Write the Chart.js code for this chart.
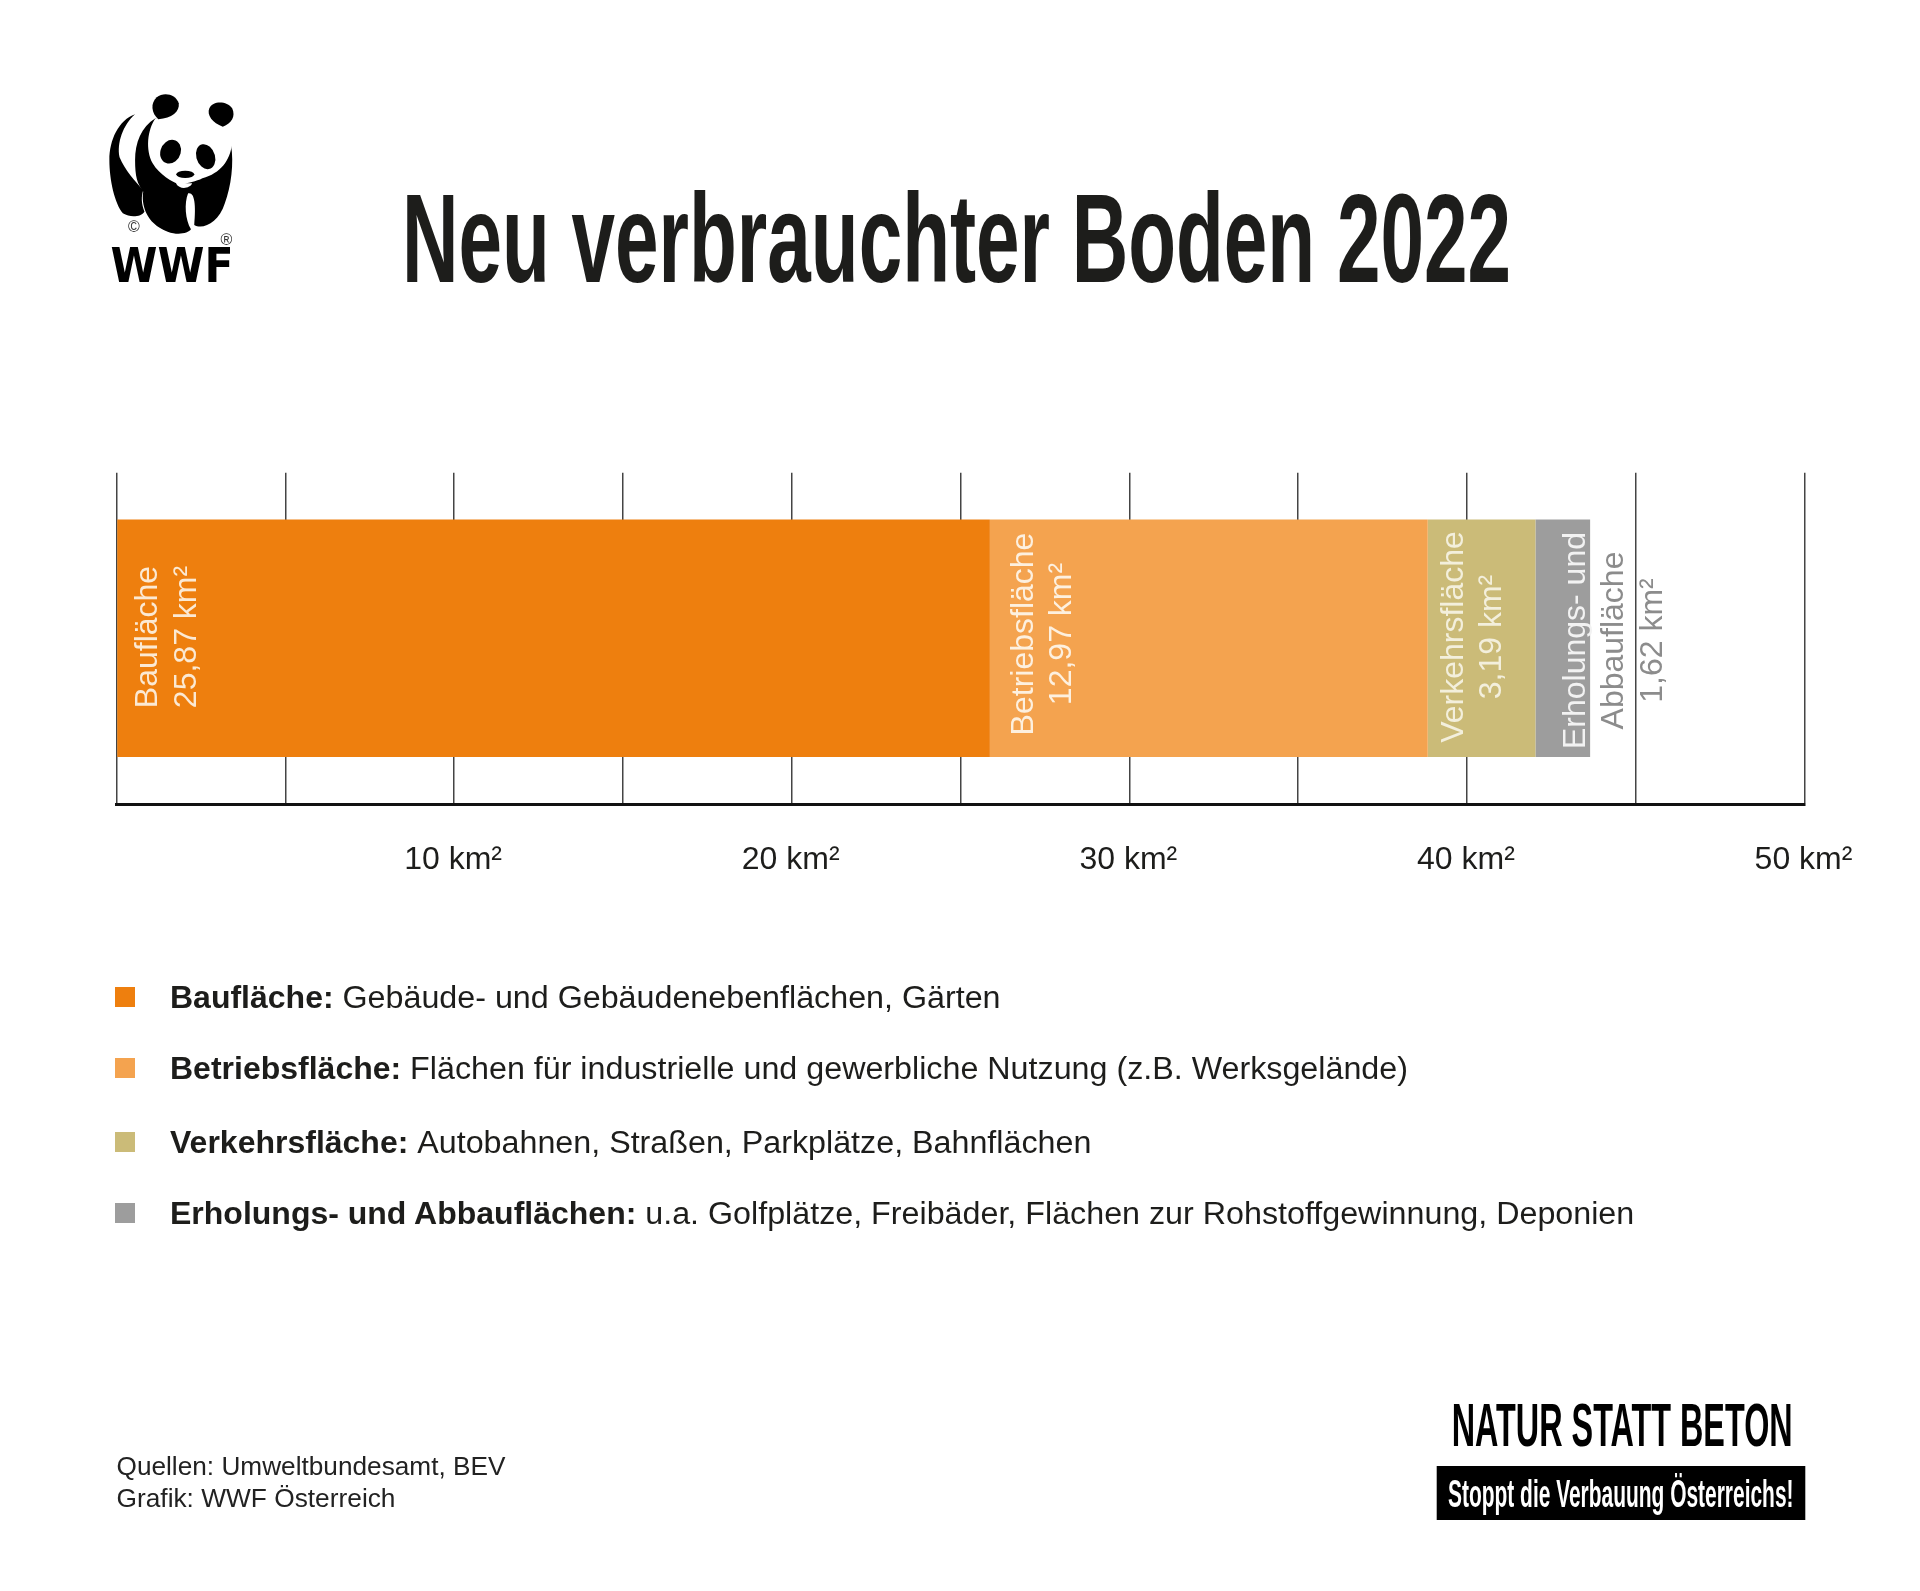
<!DOCTYPE html>
<html lang="de">
<head>
<meta charset="utf-8">
<title>Neu verbrauchter Boden 2022</title>
<script src="https://cdn.jsdelivr.net/npm/chart.js@4"></script>
<style>
html, body { margin: 0; padding: 0; background: #fff; }
#wrap { position: relative; width: 1920px; height: 1591px; overflow: hidden; }
#chart { position: absolute; left: 0; top: 0; }
#overlay { position: absolute; left: 0; top: 0; }
#overlay text { font-family: "Liberation Sans", Arial, sans-serif; }
#overlay .narrow { font-family: "Liberation Sans Narrow", "Liberation Sans", sans-serif; font-weight: bold; }
</style>
</head>
<body>
<div id="wrap">
<canvas id="chart" width="1920" height="1591"></canvas>
<svg id="overlay" width="1920" height="1591" viewBox="0 0 1920 1591" xmlns="http://www.w3.org/2000/svg">
  <!-- Panda: Koordinaten aus dem Zoom-Ausschnitt -->
  <g transform="translate(80,70) scale(0.408,0.3333)">
    <path fill="#000" d="M135,133 C95,150 72,210 72,270 C72,330 85,400 105,430 C125,445 150,440 158,425 C150,400 150,380 155,360 C135,335 110,300 97,262 C90,220 105,165 135,133 Z"/>
    <path fill="#000" d="M185,145 C150,170 135,220 135,270 C135,320 140,340 155,365 C150,400 160,460 215,485 C240,497 265,490 272,478 C258,450 255,400 265,370 C280,365 285,400 280,465 C300,480 340,460 355,400 C370,350 378,280 370,225 L300,180 L200,150 Z"/>
    <path fill="#fff" d="M185,145 C165,180 160,240 178,280 C195,315 225,335 245,345 C265,338 285,335 300,325 C345,310 368,270 372,225 C370,190 340,170 300,160 C260,150 220,140 185,145 Z"/>
    <path fill="#000" d="M192,148 C175,130 172,100 188,82 C205,65 235,72 242,100 C245,125 225,145 192,148 Z"/>
    <path fill="#000" d="M350,170 C325,160 310,135 317,115 C325,92 360,92 373,115 C382,140 372,160 350,170 Z"/>
    <ellipse fill="#000" cx="222" cy="245" rx="25" ry="36" transform="rotate(12 222 245)"/>
    <ellipse fill="#000" cx="308" cy="260" rx="23" ry="38" transform="rotate(-12 308 260)"/>
    <ellipse fill="#000" cx="258" cy="313" rx="22" ry="11"/>
    <path fill="#fff" d="M235,340 C250,338 265,340 275,340 C270,355 245,362 235,340 Z"/>
  </g>
  <text x="134" y="232" font-size="16" text-anchor="middle" fill="#333">©</text>
  <text x="226.5" y="245" font-size="16" text-anchor="middle" fill="#333">®</text>
  <text x="110.5" y="282" font-size="48" font-weight="bold" textLength="123" lengthAdjust="spacingAndGlyphs" style="font-family:'DejaVu Sans'" fill="#000">WWF</text>

  <text class="narrow" x="402" y="282" font-size="127" textLength="1109" lengthAdjust="spacingAndGlyphs" fill="#1d1d1b">Neu verbrauchter Boden 2022</text>

  <g id="legend"></g>

  <text x="116.5" y="1475" font-size="26" textLength="389" lengthAdjust="spacingAndGlyphs" fill="#222">Quellen: Umweltbundesamt, BEV</text>
  <text x="116.5" y="1506.5" font-size="26" textLength="279" lengthAdjust="spacingAndGlyphs" fill="#222">Grafik: WWF Österreich</text>

  <text class="narrow" x="1451.7" y="1446" font-size="61" textLength="341" lengthAdjust="spacingAndGlyphs" fill="#000">NATUR STATT BETON</text>
  <rect x="1436.7" y="1466" width="368.6" height="54" fill="#000"/>
  <text class="narrow" x="1448" y="1506.7" font-size="39" textLength="345.5" lengthAdjust="spacingAndGlyphs" fill="#fff">Stoppt die Verbauung Österreichs!</text>
</svg>
</div>
<script>
const categories = ['Baufläche', 'Betriebsfläche', 'Verkehrsfläche', 'Erholungs- und Abbaufläche'];
const values = [25.87, 12.97, 3.19, 1.62];
const valueLabels = ['25,87 km²', '12,97 km²', '3,19 km²', '1,62 km²'];
const colors = ['#ee7f0e', '#f4a34f', '#cbbb78', '#9d9d9d'];

const xTickValues = [10, 20, 30, 40, 50];
const xTickLabels = ['10 km²', '20 km²', '30 km²', '40 km²', '50 km²'];

const legendTitles = ['Baufläche:', 'Betriebsfläche:', 'Verkehrsfläche:', 'Erholungs- und Abbauflächen:'];
const legendTexts = [
    'Gebäude- und Gebäudenebenflächen, Gärten',
    'Flächen für industrielle und gewerbliche Nutzung (z.B. Werksgelände)',
    'Autobahnen, Straßen, Parkplätze, Bahnflächen',
    'u.a. Golfplätze, Freibäder, Flächen zur Rohstoffgewinnung, Deponien'
];

// Beschriftung in den Balken, Zeilen von links nach rechts
const barLabelLines = [
    [categories[0], valueLabels[0]],
    [categories[1], valueLabels[1]],
    [categories[2], valueLabels[2]],
    ['Erholungs- und', 'Abbaufläche', valueLabels[3]]
];
const barLabelOffsets = [[40, 79], [43, 81], [35, 73], [50, 88, 127]];
const barLabelColors = [
    ['#fbe9d3', '#fbe9d3'],
    ['#fdf0df', '#fdf0df'],
    ['#f3efdc', '#f3efdc'],
    ['#f2f2f2', '#8c8c8c', '#8c8c8c']
];
const barLabelCenterY = [637, 634, 637, 640.5];

const barLabelPlugin = {
    id: 'barLabels',
    afterDatasetsDraw(chart) {
        const ctx = chart.ctx;
        categories.forEach((c, i) => {
            const bar = chart.getDatasetMeta(i).data[0];
            const left = Math.min(bar.base, bar.x);
            barLabelLines[i].forEach((line, j) => {
                ctx.save();
                ctx.translate(left + barLabelOffsets[i][j], barLabelCenterY[i]);
                ctx.rotate(-Math.PI / 2);
                ctx.font = '32px "Liberation Sans", Arial, sans-serif';
                ctx.textAlign = 'center';
                ctx.textBaseline = 'alphabetic';
                ctx.fillStyle = barLabelColors[i][j];
                ctx.fillText(line, 0, 0);
                ctx.restore();
            });
        });
    }
};

new Chart(document.getElementById('chart').getContext('2d'), {
    type: 'bar',
    data: {
        labels: ['Boden'],
        datasets: categories.map((c, i) => ({
            label: c,
            data: [values[i]],
            backgroundColor: colors[i],
            borderWidth: 0,
            barPercentage: 0.717,
            categoryPercentage: 1
        }))
    },
    options: {
        indexAxis: 'y',
        responsive: false,
        animation: false,
        layout: { padding: { left: 116.5, right: 115.5, top: 472.7, bottom: 687 } },
        plugins: {
            legend: { display: false },
            title: { display: false },
            tooltip: { enabled: false }
        },
        scales: {
            x: {
                type: 'linear',
                stacked: true,
                min: 0,
                max: 50,
                afterFit(scale) { scale.height = 100; },
                grid: { color: '#444', lineWidth: 1.5, drawTicks: false },
                border: { color: '#111', width: 3 },
                ticks: {
                    stepSize: 5,
                    autoSkip: false,
                    maxRotation: 0,
                    padding: 37,
                    labelOffset: -1,
                    color: '#1d1d1b',
                    font: { family: '"Liberation Sans", Arial, sans-serif', size: 32 },
                    callback(v) {
                        const i = xTickValues.indexOf(v);
                        return i < 0 ? '' : xTickLabels[i];
                    }
                }
            },
            y: { stacked: true, display: false }
        }
    },
    plugins: [barLabelPlugin]
});

// Legende mit fettem Titel und normalem Text
const svgNs = 'http://www.w3.org/2000/svg';
const legendGroup = document.getElementById('legend');
const legendBaselines = [1008, 1079, 1153, 1224];
categories.forEach((c, i) => {
    const y = legendBaselines[i];
    const rect = document.createElementNS(svgNs, 'rect');
    rect.setAttribute('x', 115);
    rect.setAttribute('y', y - 21);
    rect.setAttribute('width', 20);
    rect.setAttribute('height', 20);
    rect.setAttribute('fill', colors[i]);
    legendGroup.appendChild(rect);

    const text = document.createElementNS(svgNs, 'text');
    text.setAttribute('x', 170);
    text.setAttribute('y', y);
    text.setAttribute('font-size', 32);
    text.setAttribute('fill', '#1d1d1b');
    const bold = document.createElementNS(svgNs, 'tspan');
    bold.setAttribute('font-weight', 'bold');
    bold.textContent = legendTitles[i] + ' ';
    const normal = document.createElementNS(svgNs, 'tspan');
    normal.setAttribute('font-size', 32.25);
    normal.textContent = legendTexts[i];
    text.appendChild(bold);
    text.appendChild(normal);
    legendGroup.appendChild(text);
});
</script>
</body>
</html>
